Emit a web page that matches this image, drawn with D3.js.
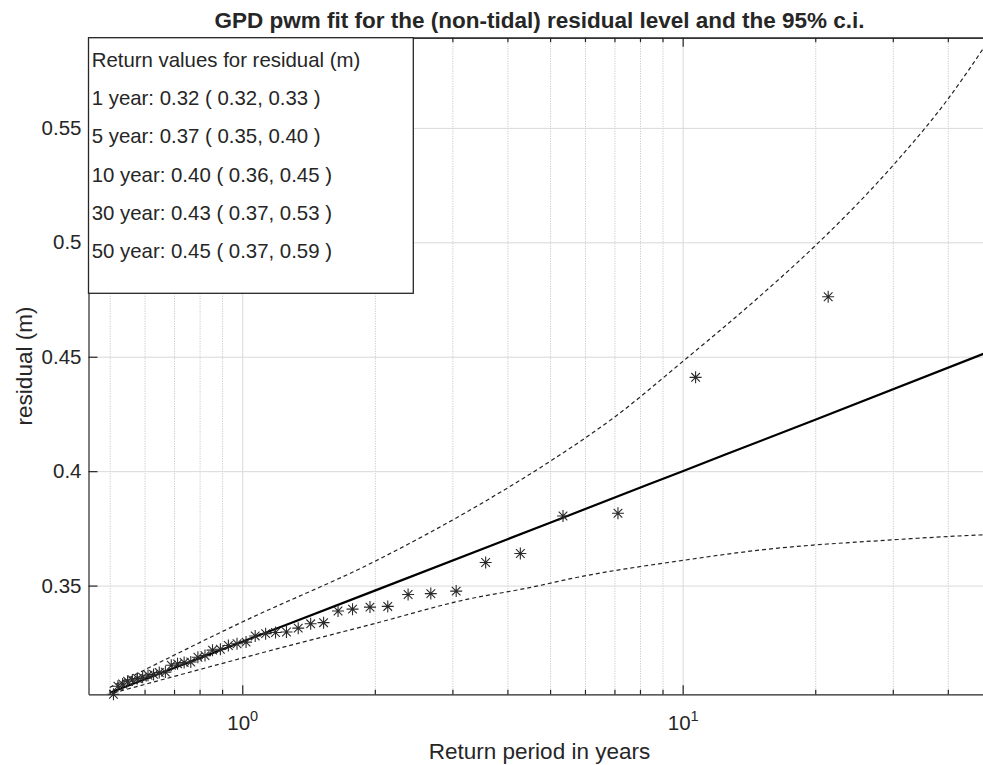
<!DOCTYPE html>
<html>
<head>
<meta charset="utf-8">
<script src="https://cdn.jsdelivr.net/npm/d3@7"></script>
<style>
  body { margin: 0; background: #fff; }
  text { font-family: "Liberation Sans", Arial, Helvetica, sans-serif; fill: #262626; }
</style>
</head>
<body>
<svg width="983" height="765"></svg>
<script>
// ranked residual peaks: return period (years) and level (m)
var periods = [21.4, 10.7, 7.13, 5.35, 4.28, 3.57, 3.06, 2.68, 2.38, 2.14,
               1.95, 1.78, 1.65, 1.53, 1.43, 1.34, 1.26, 1.19, 1.13, 1.07,
               1.02, 0.973, 0.930, 0.892, 0.856, 0.823, 0.793, 0.764, 0.738, 0.713,
               0.690, 0.669, 0.648, 0.629, 0.611, 0.594, 0.578, 0.563, 0.549, 0.535,
               0.522, 0.510];
var residuals = [0.4762, 0.4410, 0.3816, 0.3804, 0.3640, 0.3601, 0.3476, 0.3465, 0.3461, 0.3409,
                 0.3406, 0.3397, 0.3389, 0.3338, 0.3333, 0.3314, 0.3297, 0.3295, 0.3290, 0.3280,
                 0.3253, 0.3246, 0.3238, 0.3222, 0.3218, 0.3194, 0.3187, 0.3166, 0.3164, 0.3158,
                 0.3152, 0.3122, 0.3120, 0.3112, 0.3108, 0.3100, 0.3094, 0.3088, 0.3082, 0.3070,
                 0.3060, 0.3025];

// GPD fit and 95% confidence bounds
var fitPeriods = [0.5, 1, 2, 5, 10, 20, 50];
var fitLevels  = [0.3032, 0.3255, 0.3478, 0.3775, 0.4000, 0.4225, 0.4525];
var upperPeriods = [0.5, 1, 2, 3.5, 5, 7, 10, 15, 20, 30, 40, 50];
var upperLevels  = [0.3055, 0.3341, 0.3606, 0.3860, 0.4043, 0.4236, 0.4479, 0.4766, 0.4985, 0.5335, 0.5625, 0.5894];
var lowerPeriods = [0.51, 1.24, 2.05, 3.17, 4.49, 5.83, 10, 14.93, 30, 47.1, 50];
var lowerLevels  = [0.3031, 0.3231, 0.3340, 0.3436, 0.3491, 0.3538, 0.3610, 0.3655, 0.3700, 0.3721, 0.3723];

var xMajorTicks = [1, 10];
var xMinorTicks = [0.5, 0.6, 0.7, 0.8, 0.9, 2, 3, 4, 5, 6, 7, 8, 9, 20, 30, 40];
var yTicks = [0.35, 0.4, 0.45, 0.5, 0.55];

var legendLines = [
  "Return values for residual (m)",
  "1 year: 0.32 ( 0.32, 0.33 )",
  "5 year: 0.37 ( 0.35, 0.40 )",
  "10 year: 0.40 ( 0.36, 0.45 )",
  "30 year: 0.43 ( 0.37, 0.53 )",
  "50 year: 0.45 ( 0.37, 0.59 )"
];

var svg = d3.select("svg"),
    width = +svg.attr("width"),
    height = +svg.attr("height");

var plotLeft = 88.5, plotRight = 990.5, plotTop = 37.7, plotBottom = 694.3;

var x = d3.scaleLog().domain([0.4476, 50]).range([plotLeft, plotRight]);
var y = d3.scaleLinear().domain([0.3025, 0.5894]).range([plotBottom, plotTop]);

svg.append("defs").append("clipPath").attr("id", "plotclip")
  .append("rect").attr("x", plotLeft).attr("y", plotTop)
  .attr("width", plotRight - plotLeft).attr("height", plotBottom - plotTop);

//// grid
var gMinor = svg.append("g")
    .attr("transform", "translate(0," + plotBottom + ")")
    .call(d3.axisBottom(x).tickValues(xMinorTicks).tickSize(-(plotBottom - plotTop)).tickFormat(""));
gMinor.select(".domain").remove();
gMinor.selectAll("line").attr("stroke", "#bdbdbd").attr("stroke-dasharray", "1,1.5");

var gMajor = svg.append("g")
    .attr("transform", "translate(0," + plotBottom + ")")
    .call(d3.axisBottom(x).tickValues(xMajorTicks).tickSize(-(plotBottom - plotTop)).tickFormat(""));
gMajor.select(".domain").remove();
gMajor.selectAll("line").attr("stroke", "#d9d9d9");

var gHoriz = svg.append("g")
    .attr("transform", "translate(" + plotLeft + ",0)")
    .call(d3.axisLeft(y).tickValues(yTicks).tickSize(-(plotRight - plotLeft)).tickFormat(""));
gHoriz.select(".domain").remove();
gHoriz.selectAll("line").attr("stroke", "#d9d9d9");

//// curves
var plot = svg.append("g").attr("clip-path", "url(#plotclip)");

function curvePath(ts, vs) {
  return d3.line()
    .x(function(d) { return x(d[0]); })
    .y(function(d) { return y(d[1]); })
    .curve(d3.curveMonotoneX)(d3.zip(ts, vs));
}

plot.append("path").attr("d", curvePath(upperPeriods, upperLevels))
  .attr("fill", "none").attr("stroke", "#222").attr("stroke-width", 1.2).attr("stroke-dasharray", "4,3");
plot.append("path").attr("d", curvePath(lowerPeriods, lowerLevels))
  .attr("fill", "none").attr("stroke", "#222").attr("stroke-width", 1.2).attr("stroke-dasharray", "4,3");

// asterisk markers
var r = 6, dd = r * 0.72;
var star = "M" + (-r) + ",0H" + r + "M0," + (-r) + "V" + r +
           "M" + (-dd) + "," + (-dd) + "L" + dd + "," + dd +
           "M" + (-dd) + "," + dd + "L" + dd + "," + (-dd);

svg.append("g").selectAll("path")
  .data(d3.zip(periods, residuals))
  .enter().append("path")
    .attr("transform", function(d) { return "translate(" + x(d[0]) + "," + y(d[1]) + ")"; })
    .attr("d", star)
    .attr("fill", "none")
    .attr("stroke", "#2a2a2a")
    .attr("stroke-width", 1.1);

plot.append("path").attr("d", curvePath(fitPeriods, fitLevels))
  .attr("fill", "none").attr("stroke", "#000").attr("stroke-width", 2.2);

//// axes
function styleAxis(g) {
  g.selectAll(".domain").attr("stroke", "#262626").attr("stroke-width", 1.2);
  g.selectAll(".tick line").attr("stroke", "#262626").attr("stroke-width", 1.2);
}

svg.append("g").attr("transform", "translate(0," + plotBottom + ")")
  .call(d3.axisBottom(x).tickValues(xMinorTicks).tickSize(-4.5).tickSizeOuter(0).tickFormat(""))
  .call(styleAxis);
var xAxis = svg.append("g").attr("transform", "translate(0," + plotBottom + ")")
  .call(d3.axisBottom(x).tickValues(xMajorTicks).tickSize(-9).tickSizeOuter(0))
  .call(styleAxis);
xAxis.select(".domain").remove();
xAxis.selectAll(".tick text").each(function(d) {
  var t = d3.select(this).text(null)
    .attr("y", 730 - plotBottom).attr("dy", null)
    .attr("font-size", 20.5).attr("fill", "#262626")
    .attr("font-family", "Liberation Sans, Arial, sans-serif");
  t.append("tspan").text("10");
  t.append("tspan").attr("dy", -9).attr("font-size", 14.5).text(Math.round(Math.log10(d)));
});

svg.append("g").attr("transform", "translate(0," + plotTop + ")")
  .call(d3.axisTop(x).tickValues(xMinorTicks).tickSize(-4.5).tickSizeOuter(0).tickFormat(""))
  .call(styleAxis);
svg.append("g").attr("transform", "translate(0," + plotTop + ")")
  .call(d3.axisTop(x).tickValues(xMajorTicks).tickSize(-9).tickSizeOuter(0).tickFormat(""))
  .call(styleAxis);

var yAxis = svg.append("g").attr("transform", "translate(" + plotLeft + ",0)")
  .call(d3.axisLeft(y).tickValues(yTicks).tickSize(-9).tickSizeOuter(0).tickPadding(7)
        .tickFormat(function(d) { return String(d); }))
  .call(styleAxis);
yAxis.selectAll(".tick text").attr("font-size", 20.5).attr("fill", "#262626")
  .attr("font-family", "Liberation Sans, Arial, sans-serif");

//// labels
svg.append("text")
  .attr("x", (plotLeft + plotRight) / 2).attr("y", 28.3)
  .attr("text-anchor", "middle")
  .attr("font-size", 22.5).attr("font-weight", "bold").attr("fill", "#000")
  .text("GPD pwm fit for the (non-tidal) residual level and the 95% c.i.");

svg.append("text")
  .attr("x", (plotLeft + plotRight) / 2).attr("y", 759)
  .attr("text-anchor", "middle")
  .attr("font-size", 22.5)
  .text("Return period in years");

svg.append("text")
  .attr("transform", "translate(32," + ((plotTop + plotBottom) / 2) + ") rotate(-90)")
  .attr("text-anchor", "middle")
  .attr("font-size", 22.5)
  .text("residual (m)");

//// return value box
var box = svg.append("g");
box.append("rect")
  .attr("x", plotLeft).attr("y", plotTop)
  .attr("width", 413.3 - plotLeft).attr("height", 293.3 - plotTop)
  .attr("fill", "#fff").attr("stroke", "#262626").attr("stroke-width", 1.3);
box.selectAll("text.rv")
  .data(legendLines)
  .enter().append("text")
    .attr("class", "rv")
    .attr("x", 91.7)
    .attr("y", function(d, i) { return 66.7 + i * 38.3; })
    .attr("font-size", 20.4)
    .attr("fill", "#000")
    .text(function(d) { return d; });
</script>
</body>
</html>
